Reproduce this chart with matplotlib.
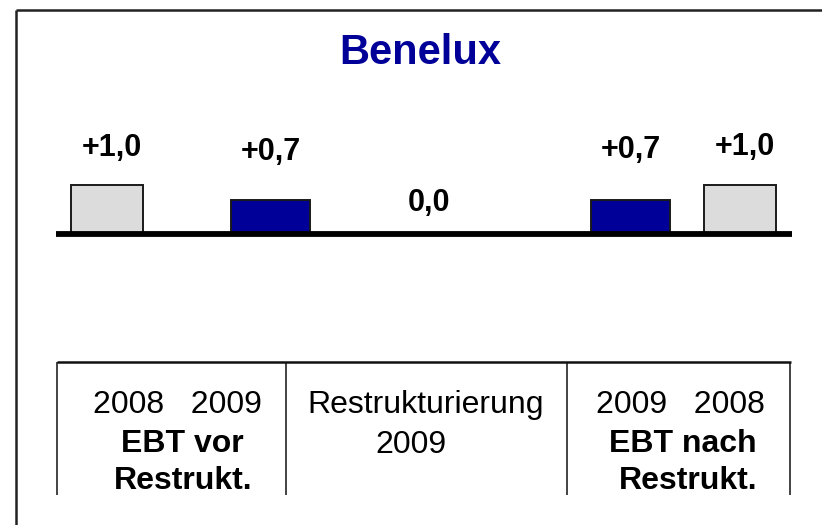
import matplotlib
matplotlib.use("Agg")
import matplotlib.pyplot as plt

# ---------------- data ----------------
title = "Benelux"
values = [1.0, 0.7, 0.0, 0.7, 1.0]
value_labels = ["+1,0", "+0,7", "0,0", "+0,7", "+1,0"]
bar_kinds = ["2008", "2009", "restr", "2009", "2008"]
table_cells = [
    ["2008   2009", "EBT vor", "Restrukt."],
    ["Restrukturierung", "2009"],
    ["2009   2008", "EBT nach", "Restrukt."],
]
cell_bold = [
    [False, True, True],
    [False, False],
    [False, True, True],
]

# ---------------- layout (pixel units) ----------------
W, H = 822, 525
bar_x = [107, 270.5, 429, 630.5, 740]
bar_w = [72, 79, 0, 79, 72]
label_x = [112, 271, 429, 631, 745]
label_base = [156, 160, 211, 158, 155]
base_px, one_px = 234, 185          # pixel rows of value 0 and value 1
colors = {"2008": "#DCDCDC", "2009": "#000099", "restr": "none"}

cell_x = [[177, 182, 183], [426, 411], [680, 683, 688]]
cell_base = [[413, 452, 489], [413, 453], [413, 452, 489]]

FONT = "Liberation Sans"

fig = plt.figure(figsize=(W / 100, H / 100), dpi=100)
fig.patch.set_facecolor("white")

# overlay axes in pixel coordinates for decorations
ov = fig.add_axes([0, 0, 1, 1])
ov.set_xlim(0, W)
ov.set_ylim(H, 0)
ov.axis("off")

# bar axes: x in pixels, y in value units
bottom = (H - base_px) / H
height = (base_px - one_px) / H
ax = fig.add_axes([0, bottom, 1, height])
ax.set_xlim(0, W)
ax.set_ylim(0, 1)
ax.axis("off")
ax.patch.set_alpha(0)

for x, w, v, k in zip(bar_x, bar_w, values, bar_kinds):
    if w == 0:
        continue
    ax.bar(x, v, width=w, color=colors[k], edgecolor="#1a1a1a",
           linewidth=1.4, clip_on=False, zorder=2)
ax.plot([56, 792], [0, 0], color="black", linewidth=4.2,
        solid_capstyle="butt", clip_on=False, zorder=3)

# value labels
for x, yb, t in zip(label_x, label_base, value_labels):
    ov.text(x, yb, t, ha="center", va="baseline", fontsize=22,
            fontweight="bold", family=FONT, color="black")

# title
ov.text(420, 64, title, ha="center", va="baseline", fontsize=30,
        fontweight="bold", family=FONT, color="#000099")

# outer frame
ov.plot([16, 16], [10, H + 5], color="#222222", linewidth=1.8, solid_capstyle="butt")
ov.plot([16, W + 5], [10, 10], color="#222222", linewidth=1.8, solid_capstyle="butt")

# table lines
ov.plot([57, 791], [362, 362], color="#111111", linewidth=1.8, solid_capstyle="butt")
for vx in [57, 286, 567, 790]:
    ov.plot([vx, vx], [362, 495], color="#111111", linewidth=1.1, solid_capstyle="butt")

# table text
for col, lines in enumerate(table_cells):
    for row, t in enumerate(lines):
        ov.text(cell_x[col][row], cell_base[col][row], t, ha="center",
                va="baseline", fontsize=23,
                fontweight="bold" if cell_bold[col][row] else "normal",
                family=FONT, color="black")

fig.savefig("out.png", dpi=100, facecolor="white")
